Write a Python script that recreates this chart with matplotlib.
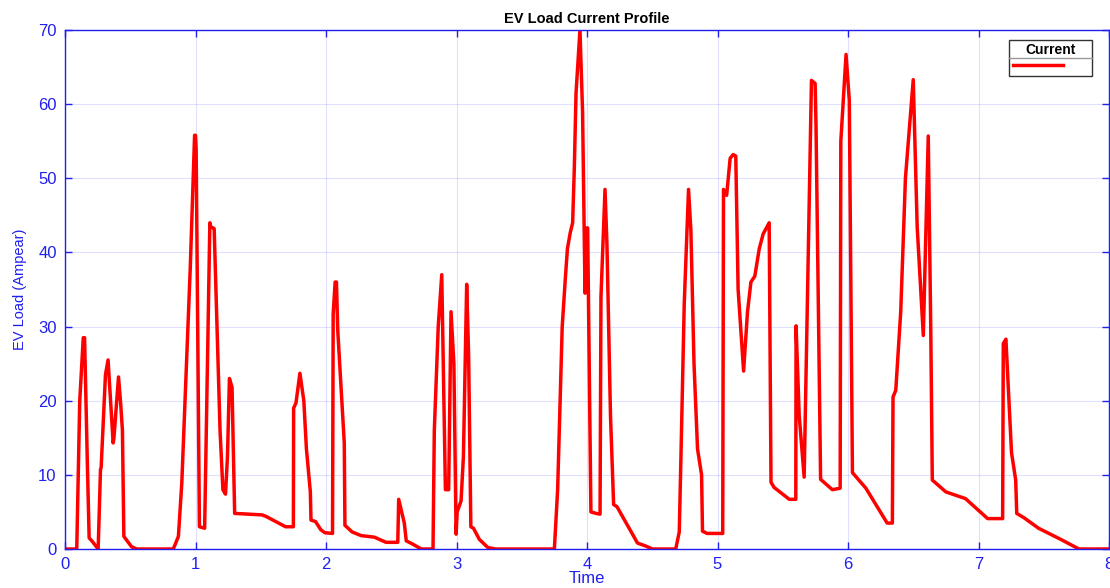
import matplotlib
matplotlib.use('Agg')
import matplotlib.pyplot as plt
from matplotlib.lines import Line2D

plt.rcParams['font.family'] = ['Liberation Sans', 'DejaVu Sans']

# EV load current profile
time = [0.0, 0.09, 0.113, 0.14, 0.15, 0.17, 0.185, 0.21, 0.254, 0.272, 0.277, 0.31, 0.33,
        0.369, 0.375, 0.41, 0.427, 0.44, 0.451, 0.51, 0.55, 0.83, 0.869, 0.895, 0.92,
        0.96, 0.993, 1.0, 1.005, 1.03, 1.07, 1.11, 1.115, 1.143, 1.188, 1.21, 1.23,
        1.245, 1.26, 1.28, 1.30, 1.51, 1.54, 1.69, 1.75, 1.752, 1.77, 1.80, 1.83,
        1.85, 1.88, 1.885, 1.92, 1.96, 1.99, 2.05, 2.055, 2.07, 2.08, 2.09, 2.14,
        2.145, 2.2, 2.27, 2.37, 2.46, 2.55, 2.557, 2.60, 2.615, 2.66, 2.73, 2.82,
        2.83, 2.86, 2.887, 2.915, 2.94, 2.958, 2.98, 2.997, 3.005, 3.035, 3.053,
        3.078, 3.093, 3.11, 3.13, 3.175, 3.24, 3.30, 3.75, 3.775, 3.81, 3.834, 3.85,
        3.872, 3.89, 3.903, 3.916, 3.946, 3.966, 3.985, 3.99, 4.005, 4.03, 4.07,
        4.10, 4.107, 4.138, 4.153, 4.18, 4.204, 4.23, 4.31, 4.387, 4.45, 4.50, 4.68,
        4.707, 4.72, 4.745, 4.778, 4.796, 4.82, 4.847, 4.878, 4.885, 4.92, 5.04,
        5.046, 5.07, 5.097, 5.12, 5.14, 5.158, 5.2, 5.23, 5.256, 5.286, 5.32, 5.35,
        5.396, 5.41, 5.434, 5.55, 5.60, 5.602, 5.626, 5.664, 5.72, 5.748, 5.755,
        5.79, 5.88, 5.94, 5.945, 5.985, 6.01, 6.034, 6.137, 6.30, 6.34, 6.345,
        6.366, 6.404, 6.44, 6.5, 6.53, 6.577, 6.615, 6.634, 6.646, 6.75, 6.90,
        7.07, 7.185, 7.19, 7.21, 7.253, 7.285, 7.293, 7.35, 7.46, 7.63, 7.77, 8.0]
current = [0, 0, 20, 28.5, 28.5, 12.5, 1.5, 1.0, 0, 10.7, 11, 23.5, 25.5,
           14.3, 15, 23.2, 19.5, 16, 1.7, 0.3, 0, 0, 1.7, 8.9, 20,
           38, 55.8, 55.8, 54, 3, 2.8, 44, 43.5, 43.2, 16, 8, 7.4,
           12.5, 23, 21.8, 4.8, 4.6, 4.4, 3.0, 3.0, 19, 19.7, 23.7, 20,
           13.5, 7.7, 3.9, 3.7, 2.6, 2.2, 2.1, 31.7, 36, 36, 29.5, 14.3,
           3.2, 2.3, 1.8, 1.6, 0.9, 0.9, 6.7, 3.5, 1.1, 0.7, 0, 0,
           16, 30, 37, 8, 8, 32, 25, 2, 5, 6.5, 12.5,
           35.7, 26, 3, 2.8, 1.3, 0.2, 0, 0, 8, 30, 36.5, 40.5,
           42.7, 44, 51.5, 61.5, 70, 59, 34.5, 43.3, 43.3, 5, 4.8,
           4.7, 34, 48.5, 41, 18, 6, 5.7, 3.2, 0.8, 0.4, 0, 0,
           2.3, 12.5, 33, 48.5, 43, 25, 13.5, 10, 2.4, 2.1, 2.1,
           48.5, 47.7, 52.7, 53.2, 53, 35, 24, 32, 36, 36.8, 40.5, 42.5,
           44, 9, 8.3, 6.7, 6.7, 30.1, 18, 9.7, 63.2, 62.8, 57,
           9.4, 8.0, 8.2, 55, 66.7, 60.5, 10.3, 8.2, 3.5, 3.5, 20.5,
           21.4, 32, 50, 63.3, 43.5, 28.8, 55.7, 30, 9.3, 7.7, 6.8,
           4.1, 4.1, 27.7, 28.3, 13, 9.3, 4.8, 4.2, 2.8, 1.3, 0, 0]

xticks = list(range(0, 9))
yticks = list(range(0, 71, 10))

axis_blue = '#1f1fee'

fig = plt.figure(figsize=(11.1, 5.88), dpi=100)
ax = fig.add_axes([65 / 1110, 1 - 549 / 588, 1044 / 1110, 519 / 588])

ax.plot(time, current, color='#ff0000', linewidth=2.5, label='      ',
        solid_joinstyle='round')

ax.set_xlim(0, 8)
ax.set_ylim(0, 70)
ax.set_xticks(xticks)
ax.set_yticks(yticks)
ax.grid(True, color='#0000ff', alpha=0.12, linewidth=0.8)
ax.set_axisbelow(True)

for s in ax.spines.values():
    s.set_color(axis_blue)
    s.set_linewidth(1.0)
ax.tick_params(direction='in', length=5, width=1, colors=axis_blue,
               labelsize=12, top=True, right=True, pad=6)
for lbl in ax.get_xticklabels() + ax.get_yticklabels():
    lbl.set_color(axis_blue)

ax.set_title('EV Load Current Profile', fontsize=10.5, fontweight='bold', pad=5)
ax.set_xlabel('Time', fontsize=12, color=axis_blue, labelpad=-1)
ax.set_ylabel('EV Load (Ampear)', fontsize=10.5, color=axis_blue, labelpad=8)

leg = ax.legend(loc='upper right', bbox_to_anchor=((1093 - 65) / 1045, 1 - 10 / 519),
                borderaxespad=0, title='Current', fontsize=10, handlelength=3.6,
                handletextpad=0.2, fancybox=False, framealpha=1, edgecolor='#333333',
                borderpad=0.25, labelspacing=0.1)
leg.get_title().set_fontweight('bold')
leg.get_title().set_fontsize(10)
leg.get_frame().set_linewidth(1.0)

# separator between legend title and entry, like MATLAB
fig.canvas.draw()
r = fig.canvas.get_renderer()
fb = leg.get_frame().get_window_extent(r)
tb = leg.get_title().get_window_extent(r)
ysep = tb.y0 - 1
fig.add_artist(Line2D([fb.x0, fb.x1], [ysep, ysep], transform=None,
                      color='#999999', linewidth=1.0))

fig.savefig('out.png', dpi=100)
